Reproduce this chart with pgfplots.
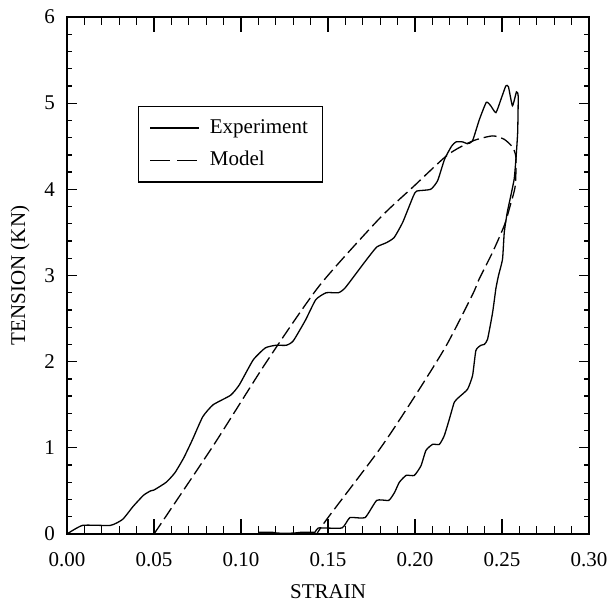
\documentclass[border=0pt]{standalone}
\usepackage{fontspec}
\setmainfont{Liberation Serif}
\usepackage{pgfplots}
\pgfplotsset{compat=1.18}
\pgfplotsset{
  common/.style={
    scale only axis,
    width=261bp, height=258.5bp,
    xmin=0, xmax=0.3, ymin=0, ymax=6,
    tick align=inside,
    xtick pos=both, ytick pos=both,
    axis line style={line width=0.65bp},
    every tick/.append style={black, line width=0.65bp},
    /pgf/number format/assume math mode=true,
    tick label style={font=\fontsize{10.5bp}{12bp}\selectfont},
    label style={font=\fontsize{10.5bp}{12bp}\selectfont},
  }
}
\begin{document}
\begin{tikzpicture}
% axis with the y ticks
\begin{axis}[
  common,
  xtick=\empty,
  ytick={0,1,2,3,4,5,6},
  minor y tick num=4,
  major tick length=5bp, minor tick length=2.5bp,
  yticklabel style={xshift=-2.5bp},
  ylabel={TENSION (KN)},
  ylabel style={at={(axis description cs:-0.090,0.5)}, anchor=center},
]
\end{axis}
% axis with the x ticks, curves and legend
\begin{axis}[
  common,
  name=ax,
  ytick=\empty,
  xtick={0,0.05,0.10,0.15,0.20,0.25,0.30},
  minor x tick num=4,
  major tick length=7.5bp, minor tick length=4bp,
  xticklabel style={/pgf/number format/fixed, /pgf/number format/fixed zerofill, /pgf/number format/precision=2, yshift=-6bp},
  scaled x ticks=false,
  xlabel={STRAIN},
  xlabel style={at={(axis description cs:0.5,-0.112)}, anchor=center},
  legend style={at={(axis description cs:0.136,0.828)}, anchor=north west,
    draw=black, line width=0.6bp, inner xsep=5.5bp, inner ysep=4.5bp,
    font=\fontsize{10.5bp}{12bp}\selectfont, row sep=3.5bp, column sep=3bp,
    nodes={inner sep=2bp}},
  legend cell align=left,
  legend image code/.code={\draw[#1] (0bp,0bp) -- (24.5bp,0bp);},
]
\addplot[black, line width=0.65bp, smooth, tension=0.3, forget plot] coordinates {
(0,0) (0.009,0.10) (0.025,0.10) (0.032,0.17) (0.038,0.32) (0.044,0.45)
(0.048,0.50) (0.050,0.51) (0.057,0.60) (0.062,0.71) (0.067,0.88) (0.072,1.09)
(0.078,1.36) (0.084,1.50) (0.094,1.61) (0.099,1.73) (0.107,2.02) (0.114,2.16)
(0.120,2.19) (0.126,2.19) (0.130,2.24) (0.137,2.48) (0.143,2.72) (0.149,2.80)
(0.156,2.80) (0.160,2.86) (0.172,3.18) (0.178,3.33) (0.1835,3.38) (0.188,3.44)
(0.193,3.62) (0.199,3.92) (0.201,3.98) (0.209,4.00) (0.213,4.10) (0.217,4.35)
(0.221,4.50) (0.2235,4.55) (0.2275,4.55) (0.230,4.53) (0.233,4.56) (0.237,4.81)
(0.241,5.01) (0.2435,4.97) (0.2465,4.89) (0.2495,5.05) (0.2522,5.20) (0.2537,5.19)
(0.256,4.97) (0.2583,5.13) (0.2593,5.08) (0.2590,4.66) (0.258,4.35) (0.257,4.12)
(0.255,3.92) (0.253,3.73) (0.2513,3.50) (0.2503,3.19) (0.248,3.00) (0.2465,2.85)
(0.2446,2.57) (0.2417,2.26) (0.2398,2.20) (0.2379,2.19) (0.235,2.13) (0.2331,1.84)
(0.2302,1.68) (0.2254,1.59) (0.2226,1.53) (0.2197,1.33) (0.2168,1.14) (0.214,1.04)
(0.2101,1.04) (0.2063,0.97) (0.2034,0.79) (0.1996,0.68) (0.1949,0.68) (0.191,0.60)
(0.1882,0.48) (0.1849,0.39) (0.178,0.39) (0.1713,0.19) (0.1626,0.19) (0.158,0.07)
(0.1444,0.07) (0.1425,0.02) (0.135,0.02) (0.13,0.01) (0.121,0.01) (0.118,0.02) (0.11,0.02)
};
\addplot[black, line width=0.65bp, dash pattern=on 6.5bp off 2.5bp, smooth, tension=0.4, forget plot] coordinates {
(0.050,0) (0.0839,1.02) (0.1144,1.99) (0.145,2.88) (0.1795,3.66) (0.199,4.03)
(0.2188,4.40) (0.233,4.56) (0.2446,4.62) (0.2513,4.58) (0.256,4.49) (0.258,4.37)
(0.2576,4.04) (0.2547,3.81) (0.2513,3.58) (0.2446,3.27) (0.2369,2.96) (0.2331,2.78)
(0.2178,2.18) (0.199,1.57) (0.1799,0.99) (0.150,0.19) (0.1435,0)
};
\addlegendimage{black, line width=0.65bp}
\addlegendentry{Experiment}
\addlegendimage{black, line width=0.65bp, dash pattern=on 10bp off 3.5bp}
\addlegendentry{Model}
\end{axis}
\path (ax.south west) ++(-33.5bp,-35.5bp) coordinate (bbA);
\path (ax.north east) ++(13.5bp,8.5bp) coordinate (bbB);
\path (bbA) rectangle (bbB);
\end{tikzpicture}
\end{document}
